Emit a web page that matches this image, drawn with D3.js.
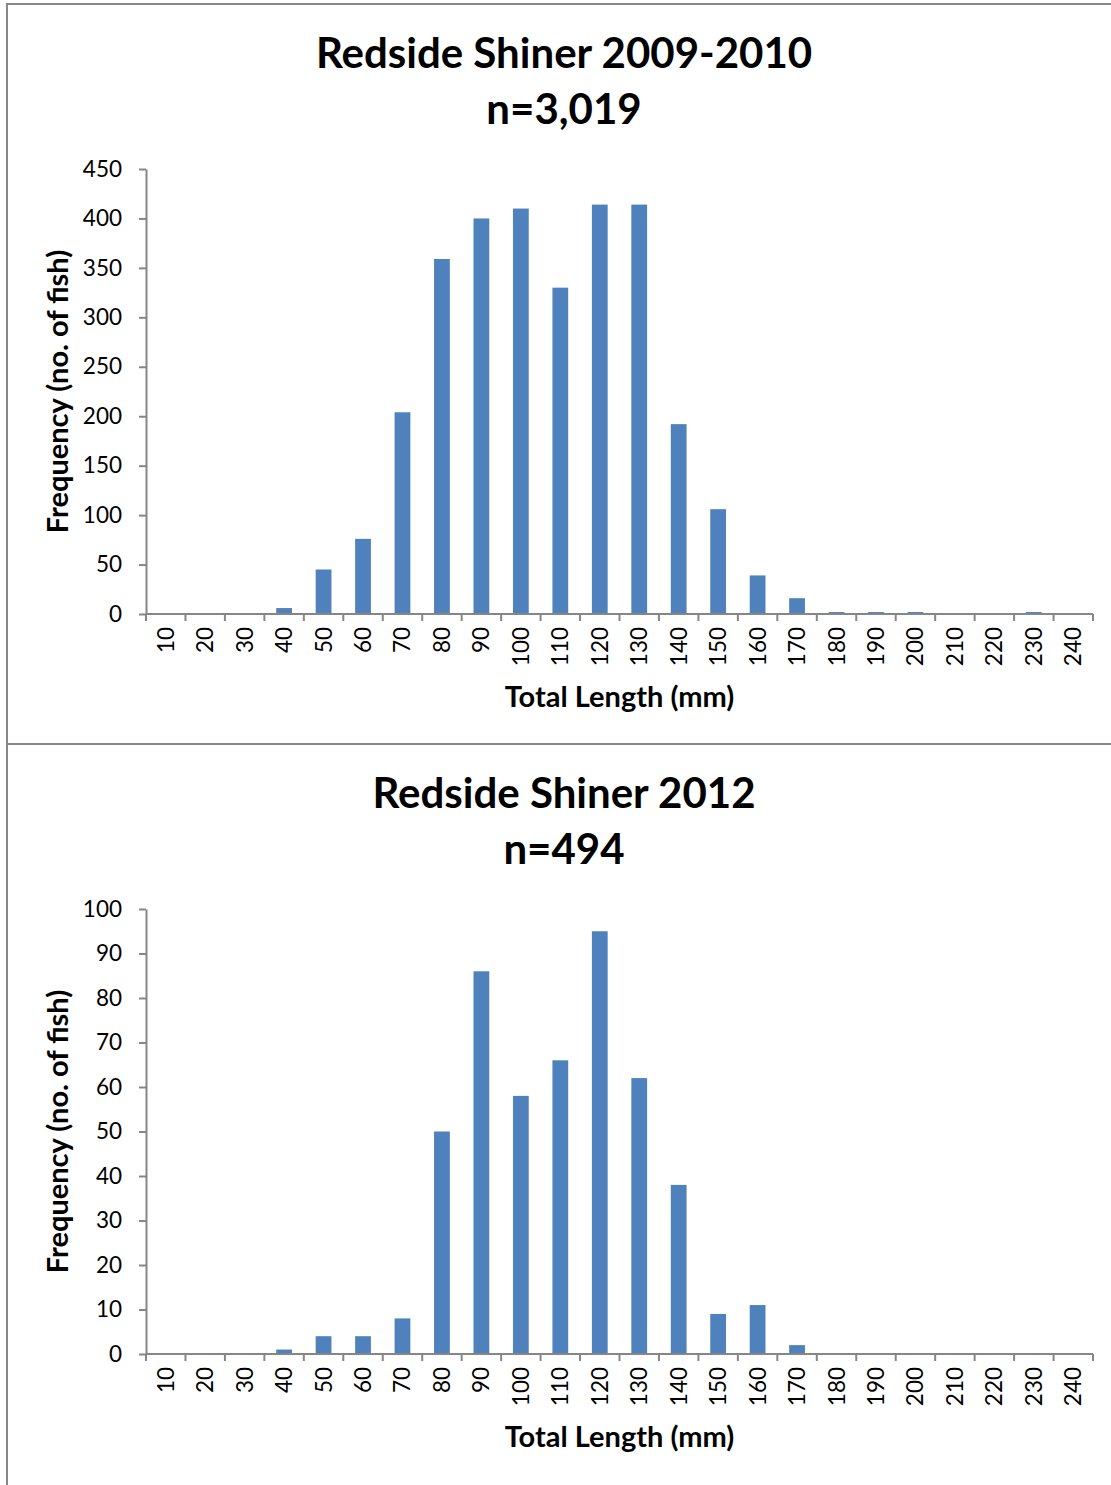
<!DOCTYPE html>
<html>
<head>
<meta charset="utf-8">
<script src="https://cdn.jsdelivr.net/npm/d3@7"></script>
<style>
	body { margin: 0; background: #fff; }
	svg { display: block; }
	text { font-family: Lato, "Open Sans", sans-serif; fill: #000; }
	.title { font-weight: bold; font-size: 42px; }
	.axis-title { font-weight: bold; font-size: 29px; }
	.tick-label { font-size: 22.5px; }
</style>
</head>
<body>
<div id="chart"></div>
<script>

// size classes in mm (category axis)
const lengths = [10, 20, 30, 40, 50, 60, 70, 80, 90, 100, 110, 120,
	130, 140, 150, 160, 170, 180, 190, 200, 210, 220, 230, 240];

// number of fish in each size class
const counts2009 = [0, 0, 0, 6, 45, 76, 204, 359, 400, 410, 330, 414,
	414, 192, 106, 39, 16, 2, 2, 2, 0, 0, 2, 0];
const counts2012 = [0, 0, 0, 1, 4, 4, 8, 50, 86, 58, 66, 95,
	62, 38, 9, 11, 2, 0, 0, 0, 0, 0, 0, 0];

const titles2009 = ["Redside Shiner 2009-2010", "n=3,019"];
const titles2012 = ["Redside Shiner 2012", "n=494"];

const yTicks2009 = [0, 50, 100, 150, 200, 250, 300, 350, 400, 450];
const yTicks2012 = [0, 10, 20, 30, 40, 50, 60, 70, 80, 90, 100];

const yLabel = "Frequency (no. of fish)";
const xLabel = "Total Length (mm)";

const width = 1111, height = 1485;
const panelHeight = 740;
const margin = {left: 146, right: 18, top: 169, bottom: 126};
const barColor = "#4F81BD";
const axisColor = "#868686";

const svg = d3.select("#chart").append("svg")
	.attr("width", width)
	.attr("height", height);

// outer frame of the two stacked charts
svg.append("path")
	.attr("d", "M7,1485V4H1111M7,744H1111")
	.attr("fill", "none")
	.attr("stroke", "#888")
	.attr("stroke-width", 2);

function drawPanel(offsetY, titles, counts, yTicks) {
	const g = svg.append("g").attr("transform", `translate(0,${offsetY})`);
	const plotBottom = margin.top + 445;

	const x = d3.scaleBand()
		.domain(lengths)
		.range([margin.left, width - margin.right])
		.paddingInner(0.6)
		.paddingOuter(0.3);

	const y = d3.scaleLinear()
		.domain([0, d3.max(yTicks)])
		.range([plotBottom, margin.top]);

	// titles
	g.selectAll("text.title")
		.data(titles)
		.enter().append("text")
		.attr("class", "title")
		.attr("x", 564)
		.attr("y", (d, i) => 68 + i * 56)
		.attr("text-anchor", "middle")
		.text(d => d);

	// bars
	g.append("g").selectAll("rect")
		.data(counts.map((c, i) => ({len: lengths[i], count: c})))
		.enter().append("rect")
		.attr("x", d => x(d.len))
		.attr("y", d => y(d.count))
		.attr("width", x.bandwidth())
		.attr("height", d => y(0) - y(d.count))
		.attr("fill", barColor);

	// y axis
	const yAxis = g.append("g")
		.attr("transform", `translate(${margin.left},0)`)
		.call(d3.axisLeft(y).tickValues(yTicks).tickSize(7).tickPadding(17).tickSizeOuter(0));
	yAxis.select(".domain").attr("stroke", axisColor).attr("stroke-width", 2);
	yAxis.selectAll(".tick line").attr("stroke", axisColor).attr("stroke-width", 2);
	yAxis.selectAll(".tick text")
		.attr("class", "tick-label")
		.attr("font-size", null)
		.attr("font-family", null);
	yAxis.attr("font-size", null).attr("font-family", null);

	// x axis line and category boundary ticks
	const step = x.step();
	const bounds = d3.range(lengths.length + 1).map(i => margin.left + i * step);
	const xAxis = g.append("g");
	xAxis.append("line")
		.attr("x1", margin.left).attr("x2", width - margin.right)
		.attr("y1", plotBottom).attr("y2", plotBottom)
		.attr("stroke", axisColor).attr("stroke-width", 2);
	xAxis.selectAll("line.tick")
		.data(bounds)
		.enter().append("line")
		.attr("class", "tick")
		.attr("x1", d => d).attr("x2", d => d)
		.attr("y1", plotBottom).attr("y2", plotBottom + 7)
		.attr("stroke", axisColor).attr("stroke-width", 2);
	xAxis.selectAll("text")
		.data(lengths)
		.enter().append("text")
		.attr("class", "tick-label")
		.attr("transform", d => `translate(${x(d) + x.bandwidth() / 2 + 8},${plotBottom + 13}) rotate(-90)`)
		.attr("text-anchor", "end")
		.text(d => d);

	// axis titles
	g.append("text")
		.attr("class", "axis-title")
		.attr("transform", `translate(68,${(margin.top + plotBottom) / 2}) rotate(-90)`)
		.attr("text-anchor", "middle")
		.text(yLabel);

	g.append("text")
		.attr("class", "axis-title")
		.attr("x", (margin.left + width - margin.right) / 2)
		.attr("y", plotBottom + 93)
		.attr("text-anchor", "middle")
		.text(xLabel);
}

drawPanel(0, titles2009, counts2009, yTicks2009);
drawPanel(panelHeight, titles2012, counts2012, yTicks2012);

</script>
</body>
</html>
